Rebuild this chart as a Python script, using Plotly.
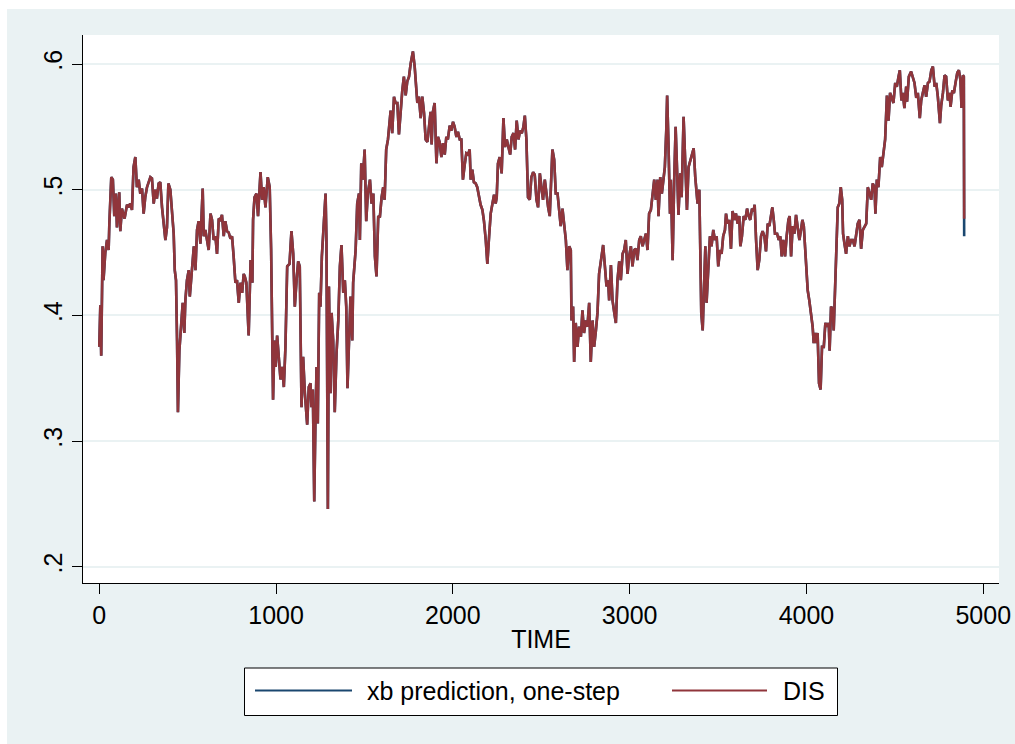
import plotly.graph_objects as go

# Observation index (TIME) and the observed series DIS
TIME = [
    0, 6, 11, 19, 24, 34, 44, 53, 57, 68, 77, 85, 94, 100, 113, 119, 128, 143, 157, 166,
    175, 185, 194, 204, 213, 223, 232, 242, 251, 260, 270, 289, 298, 308, 317, 326, 336, 345, 355, 364,
    374, 383, 391, 402, 411, 421, 427, 434, 440, 445, 453, 464, 472, 481, 487, 496, 506, 512, 521, 535,
    544, 553, 562, 572, 585, 591, 600, 610, 619, 629, 638, 647, 657, 666, 676, 685, 694, 704, 713, 723,
    732, 742, 751, 760, 770, 779, 789, 798, 808, 817, 823, 832, 845, 856, 866, 870, 878, 889, 898, 912,
    921, 930, 940, 953, 964, 972, 978, 983, 991, 998, 1006, 1015, 1025, 1035, 1044, 1053, 1063, 1076, 1087, 1097,
    1106, 1116, 1125, 1134, 1144, 1153, 1163, 1176, 1185, 1195, 1200, 1208, 1216, 1223, 1229, 1236, 1244, 1251, 1259, 1270,
    1280, 1285, 1293, 1299, 1308, 1314, 1323, 1332, 1342, 1352, 1361, 1370, 1380, 1389, 1397, 1404, 1412, 1421, 1431, 1436,
    1450, 1459, 1469, 1474, 1482, 1491, 1501, 1510, 1519, 1531, 1540, 1550, 1559, 1568, 1578, 1587, 1597, 1606, 1614, 1623,
    1633, 1648, 1657, 1667, 1676, 1686, 1695, 1704, 1714, 1723, 1733, 1742, 1752, 1761, 1774, 1784, 1793, 1799, 1808, 1818,
    1827, 1837, 1846, 1856, 1865, 1874, 1880, 1887, 1897, 1907, 1916, 1925, 1935, 1944, 1954, 1963, 1972, 1982, 1991, 2001,
    2010, 2020, 2029, 2039, 2048, 2057, 2067, 2076, 2086, 2095, 2101, 2110, 2119, 2129, 2138, 2148, 2157, 2167, 2176, 2186,
    2195, 2205, 2214, 2224, 2233, 2242, 2248, 2255, 2265, 2276, 2286, 2295, 2305, 2314, 2324, 2333, 2343, 2352, 2361, 2371,
    2380, 2390, 2399, 2407, 2416, 2425, 2435, 2444, 2454, 2463, 2473, 2482, 2492, 2501, 2510, 2520, 2529, 2539, 2548, 2563,
    2573, 2582, 2592, 2601, 2610, 2620, 2629, 2639, 2648, 2658, 2667, 2671, 2680, 2686, 2695, 2705, 2714, 2724, 2733, 2742,
    2752, 2761, 2771, 2780, 2790, 2799, 2809, 2818, 2827, 2837, 2850, 2860, 2869, 2878, 2884, 2894, 2903, 2913, 2922, 2931,
    2941, 2950, 2960, 2969, 2978, 2988, 2997, 3007, 3016, 3026, 3035, 3044, 3054, 3063, 3073, 3082, 3092, 3101, 3110, 3120,
    3129, 3139, 3148, 3158, 3163, 3173, 3182, 3192, 3199, 3207, 3212, 3220, 3228, 3233, 3243, 3252, 3260, 3270, 3276, 3286,
    3294, 3305, 3315, 3324, 3333, 3343, 3352, 3362, 3371, 3384, 3394, 3399, 3405, 3413, 3422, 3428, 3435, 3444, 3454, 3463,
    3473, 3482, 3492, 3501, 3511, 3520, 3529, 3539, 3545, 3554, 3563, 3573, 3582, 3592, 3601, 3611, 3620, 3626, 3635, 3645,
    3654, 3664, 3673, 3682, 3692, 3701, 3707, 3715, 3724, 3733, 3743, 3752, 3762, 3771, 3781, 3790, 3800, 3807, 3815, 3822,
    3834, 3843, 3852, 3860, 3869, 3879, 3888, 3898, 3905, 3913, 3922, 3932, 3941, 3950, 3960, 3969, 3977, 3985, 3992, 4000,
    4007, 4016, 4026, 4035, 4041, 4048, 4056, 4063, 4071, 4080, 4088, 4098, 4107, 4117, 4126, 4131, 4139, 4149, 4154, 4162,
    4172, 4177, 4186, 4194, 4202, 4207, 4215, 4224, 4234, 4243, 4253, 4262, 4272, 4281, 4290, 4300, 4309, 4319, 4328, 4338,
    4347, 4356, 4366, 4375, 4385, 4390, 4398, 4407, 4417, 4426, 4436, 4445, 4455, 4464, 4473, 4483, 4492, 4502, 4511, 4521,
    4528, 4537, 4545, 4554, 4564, 4569, 4579, 4592, 4602, 4611, 4621, 4630, 4641, 4649, 4658, 4668, 4677, 4687, 4696, 4706,
    4715, 4725, 4734, 4743, 4755, 4762, 4772, 4781, 4790, 4800, 4809, 4815, 4825, 4834, 4843, 4853, 4862, 4871, 4877, 4885,
    4890, 4892,
]

DIS = [
    .375, .408, .368, .455, .428, .450, .460, .452, .473, .510, .508, .479, .497, .470, .498, .467, .485, .477, .488, .486,
    .489, .484, .518, .526, .502, .508, .497, .501, .481, .494, .502, .510, .509, .489, .500, .493, .505, .506, .486, .473,
    .460, .470, .505, .500, .481, .465, .436, .428, .380, .323, .372, .394, .410, .386, .412, .428, .436, .415, .433, .455,
    .436, .468, .475, .457, .501, .463, .468, .460, .452, .481, .476, .460, .463, .449, .477, .476, .480, .463, .475, .467,
    .466, .461, .463, .447, .426, .428, .410, .426, .418, .433, .431, .426, .384, .444, .426, .476, .494, .497, .479, .514,
    .492, .502, .486, .510, .502, .452, .380, .333, .380, .359, .384, .370, .349, .359, .343, .375, .439, .441, .467, .449,
    .407, .428, .443, .439, .327, .367, .338, .313, .343, .346, .327, .341, .252, .319, .359, .314, .418, .407, .447, .473,
    .497, .460, .246, .423, .338, .402, .380, .323, .370, .396, .439, .456, .418, .428, .407, .342, .380, .415, .380, .426,
    .452, .489, .497, .460, .521, .508, .532, .475, .497, .508, .489, .497, .447, .431, .479, .478, .494, .502, .492, .532,
    .540, .563, .545, .574, .569, .569, .544, .563, .579, .590, .575, .586, .590, .600, .610, .598, .579, .569, .574, .557,
    .574, .561, .540, .538, .550, .562, .536, .562, .569, .521, .542, .538, .526, .537, .528, .542, .540, .551, .547, .554,
    .550, .542, .546, .540, .540, .508, .520, .529, .528, .532, .508, .516, .506, .505, .502, .494, .488, .484, .475, .460,
    .441, .463, .481, .489, .496, .489, .494, .521, .526, .513, .557, .534, .540, .534, .528, .542, .545, .532, .555, .540,
    .547, .545, .550, .559, .540, .494, .492, .510, .514, .512, .492, .486, .513, .502, .492, .508, .497, .486, .479, .532,
    .524, .497, .497, .486, .471, .485, .471, .460, .436, .455, .452, .396, .407, .363, .394, .375, .391, .383, .404, .386,
    .396, .391, .410, .363, .396, .375, .388, .402, .433, .444, .456, .439, .423, .428, .412, .440, .412, .402, .394, .428,
    .443, .428, .449, .452, .460, .433, .447, .455, .439, .452, .453, .444, .460, .463, .455, .460, .465, .452, .481, .484,
    .497, .508, .492, .508, .479, .510, .497, .510, .518, .547, .575, .534, .481, .508, .444, .508, .550, .508, .480, .513,
    .494, .558, .508, .484, .518, .524, .529, .533, .510, .489, .500, .465, .402, .388, .433, .455, .410, .439, .463, .455,
    .468, .460, .463, .439, .452, .449, .463, .468, .481, .473, .476, .453, .483, .476, .481, .473, .479, .455, .463, .479,
    .476, .485, .479, .476, .485, .483, .488, .460, .436, .444, .463, .467, .463, .451, .473, .471, .479, .486, .476, .465,
    .465, .460, .463, .447, .460, .447, .463, .476, .479, .447, .471, .465, .480, .471, .460, .468, .476, .471, .455, .444,
    .420, .412, .402, .391, .378, .386, .378, .386, .346, .341, .375, .375, .394, .391, .394, .372, .407, .404, .388, .423,
    .460, .486, .489, .502, .492, .465, .457, .449, .463, .455, .460, .460, .455, .463, .473, .476, .453, .468, .471, .473,
    .502, .497, .492, .505, .502, .481, .508, .502, .526, .518, .532, .540, .575, .555, .577, .573, .569, .585, .582, .590,
    .595, .571, .577, .565, .582, .570, .590, .594, .590, .585, .573, .577, .557, .571, .577, .583, .574, .585, .586, .595,
    .598, .582, .585, .574, .553, .567, .577, .591, .590, .571, .577, .566, .579, .577, .585, .593, .595, .587, .565, .591,
    .590, .477,
]

# One-step xb prediction: tracks DIS, and its final forecast sits lower
PRED_FINAL = 0.463
XB_PRED = DIS[:-1] + [PRED_FINAL]

X_TICKS = [0, 1000, 2000, 3000, 4000, 5000]
Y_TICKS = [0.2, 0.3, 0.4, 0.5, 0.6]
Y_TICK_TEXT = [".2", ".3", ".4", ".5", ".6"]

NAVY = "#1A476F"
MAROON = "#90353B"
BG = "#EAF2F3"
FONT = "Liberation Sans, Arial, sans-serif"

fig = go.Figure()
fig.add_trace(go.Scatter(x=TIME, y=XB_PRED, mode="lines", name="xb prediction, one-step",
                         line=dict(color=NAVY, width=2.6)))
fig.add_trace(go.Scatter(x=TIME, y=DIS, mode="lines", name="DIS",
                         line=dict(color=MAROON, width=2.6)))

W, H = 1015, 744
L, R, T, B = 83, 999, 35, 583  # plot area edges in pixels


def px(xp):
    return (xp - L) / (R - L)


def py(yp):
    return (B - yp) / (B - T)


shapes = [
    # white margin strips around the graph region
    dict(type="rect", xref="paper", yref="paper", x0=px(0), x1=px(7), y0=py(W), y1=py(0),
         fillcolor="white", line=dict(width=0), layer="above"),
    dict(type="rect", xref="paper", yref="paper", x0=px(0), x1=px(W), y0=py(9), y1=py(0),
         fillcolor="white", line=dict(width=0), layer="above"),
    # legend frame
    dict(type="rect", xref="paper", yref="paper", x0=px(244.5), x1=px(837.5), y0=py(715.5), y1=py(668),
         fillcolor="white", line=dict(color="black", width=1)),
    # legend keys
    dict(type="line", xref="paper", yref="paper", x0=px(255), x1=px(352), y0=py(690.5), y1=py(690.5),
         line=dict(color=NAVY, width=2)),
    dict(type="line", xref="paper", yref="paper", x0=px(672), x1=px(767), y0=py(690.5), y1=py(690.5),
         line=dict(color=MAROON, width=2)),
]

annotations = [
    dict(text="xb prediction, one-step", xref="paper", yref="paper", x=px(365), y=py(690.5),
         xanchor="left", yanchor="middle", showarrow=False, font=dict(size=25, color="black", family=FONT)),
    dict(text="DIS", xref="paper", yref="paper", x=px(781), y=py(690.5),
         xanchor="left", yanchor="middle", showarrow=False, font=dict(size=25, color="black", family=FONT)),
]

fig.update_layout(
    width=W, height=H,
    margin=dict(l=L, r=W - R, t=T, b=H - B, pad=0, autoexpand=False),
    paper_bgcolor=BG, plot_bgcolor="white",
    showlegend=False,
    font=dict(family=FONT, size=25, color="black"),
    shapes=shapes, annotations=annotations,
    xaxis=dict(
        range=[-92, 5089], tickvals=X_TICKS, showgrid=False, zeroline=False, automargin=False,
        showline=True, linecolor="black", linewidth=1,
        ticks="outside", ticklen=10, tickcolor="black", tickwidth=1,
        tickfont=dict(size=25), title=dict(text="TIME", font=dict(size=25), standoff=2),
    ),
    yaxis=dict(
        range=[0.1871, 0.6231], tickvals=Y_TICKS, ticktext=Y_TICK_TEXT, tickangle=-90,
        showgrid=True, gridcolor=BG, gridwidth=1.5, zeroline=False, automargin=False,
        showline=True, linecolor="black", linewidth=1,
        ticks="outside", ticklen=10, tickcolor="black", tickwidth=1,
        tickfont=dict(size=25),
    ),
)

fig.write_html("out.html")
